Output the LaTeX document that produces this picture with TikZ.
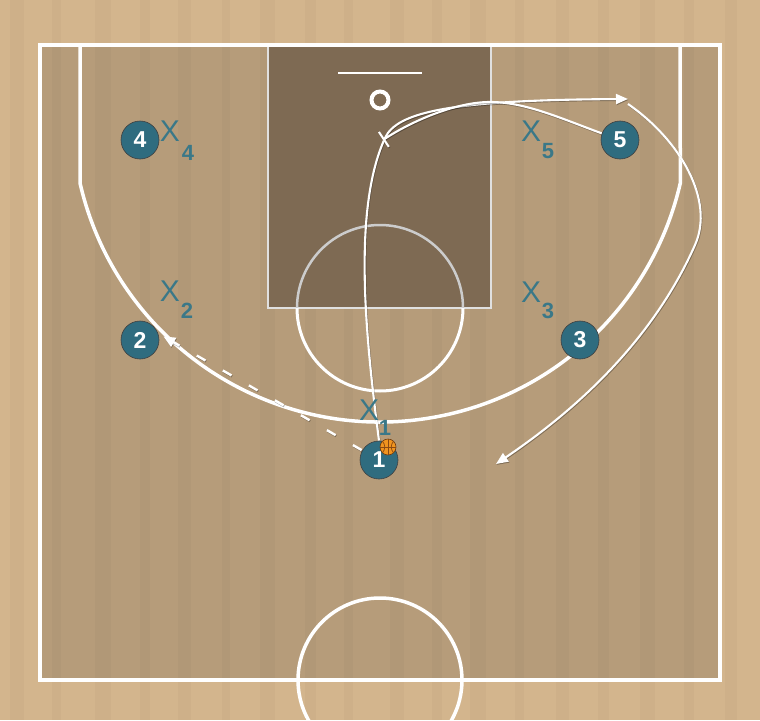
\documentclass[tikz,border=0pt]{standalone}
\usepackage{fontspec}
\setmainfont{Liberation Sans}
\usetikzlibrary{arrows.meta}
\definecolor{woodout}{HTML}{D3B58D}
\definecolor{woodin}{HTML}{B69C7A}
\definecolor{paintc}{HTML}{7E6A53}
\definecolor{tealfill}{HTML}{2F6C7F}
\definecolor{tealtxt}{HTML}{3A7888}
\definecolor{ballc}{HTML}{F0941F}
\definecolor{seam}{HTML}{8A4A12}
\pgfdeclarelayer{background}
\pgfsetlayers{background,main}
\begin{document}
\begin{tikzpicture}[x=1pt,y=-1pt,
  courtline/.style={draw=white, line width=3.5pt},
  paintline/.style={draw=white!88!black, line width=2.5pt},
  player/.style={circle, fill=tealfill, draw=black!75, line width=0.6pt,
    minimum size=38pt, inner sep=0pt, text=white,
    font=\fontsize{23}{23}\selectfont\bfseries},
  defx/.style={text=tealtxt, font=\fontsize{30}{30}\selectfont, inner sep=0pt},
  defsub/.style={text=tealtxt, font=\fontsize{22}{22}\selectfont\bfseries, inner sep=0pt},
  mv/.style={draw=white, line width=2.1pt,
    preaction={draw=black, opacity=0.3, line width=2.1pt,
      transform canvas={shift={(0.6pt,-0.9pt)}}}},
  tip/.style={-{Triangle[length=12pt,width=10pt]}},
  screenend/.style={-{Bar[width=18pt]}},
  passline/.style={draw=white, line width=2.4pt, dash pattern=on 10pt off 20pt,
    preaction={draw=black, opacity=0.3, line width=2.4pt, dash pattern=on 10pt off 20pt,
      transform canvas={shift={(0.6pt,-0.9pt)}}}}
]
\useasboundingbox (0,0) rectangle (760,720);

% players
\node[player] (p4) at (140,140) {4};
\node[player] (p2) at (140,340) {2};
\node[player] (p1) at (379,460) {1};
\node[player] (p3) at (580,340) {3};
\node[player] (p5) at (620,140) {5};

% defenders
\node[defx] (x4) at (170,131) {X};
\node[defsub] (x4n) at (188,153) {4};
\node[defx] (x2) at (170,291) {X};
\node[defsub] (x2n) at (187,311) {2};
\node[defx] (x1) at (369,410) {X};
\node[defsub] (x1n) at (385,428) {1};
\node[defx] (x5) at (531,131) {X};
\node[defsub] (x5n) at (548,151) {5};
\node[defx] (x3) at (531,292) {X};
\node[defsub] (x3n) at (548,311) {3};

% ball
\node[circle, fill=ballc, draw=seam!80!black, line width=0.6pt, minimum size=16pt, inner sep=0pt] (ball) at (388,447) {};
\begin{scope}[shift={(388,447)}]
  \draw[seam, line width=0.7pt] (-8,0) -- (8,0);
  \draw[seam, line width=0.7pt] (0,-8) -- (0,8);
  \draw[seam, line width=0.7pt] (-5.5,-5.8) .. controls (-2.5,-2) and (-2.5,2) .. (-5.5,5.8);
  \draw[seam, line width=0.7pt] (5.5,-5.8) .. controls (2.5,-2) and (2.5,2) .. (5.5,5.8);
\end{scope}

% coordinates for free ends
\coordinate (cutend) at (628,99);
\coordinate (scr) at (383,140);
\coordinate (c2s) at (628,104);
\coordinate (c2e) at (496,464);

\begin{pgfonlayer}{background}
\clip (0,0) rectangle (760,720);
% floor
\fill[woodout] (0,0) rectangle (760,720);
\fill[woodin] (40,45) rectangle (720,680);
\foreach \xa/\w in {10/14,52/9,95/16,140/10,178/13,222/8,260/15,305/11,344/9,390/14,432/10,470/16,515/9,556/13,598/11,640/15,684/10,725/12}
  \fill[black, opacity=0.025] (\xa,0) rectangle ++(\w,720);
% paint
\fill[paintc] (268,45) rectangle (491,308);
\draw[paintline] (268,45) -- (268,308) -- (491,308) -- (491,45);
% free throw circle
\draw[draw=white!80!black, line width=2.5pt] (463,308) arc[start angle=0, end angle=-180, radius=83];
\draw[courtline, line width=3pt] (463,308) arc[start angle=0, end angle=180, radius=83];
% court boundary and three point line
\draw[courtline] (40,45) rectangle (720,680);
\draw[courtline] (80,45) -- (80,183) arc[start angle=167.05, end angle=12.95, radius=308] -- (680,45);
% half court circle
\draw[courtline] (380,680) circle[radius=82];
% backboard and rim
\draw[white, line width=2pt] (338,73) -- (422,73);
\draw[white, line width=4pt] (380,100) circle[radius=8.5];

% movements
\path[mv, tip] (p1.north) .. controls (366,340) and (352,210) .. (385,138)
  .. controls (397,112) and (450,100) .. (cutend);
\path[mv, screenend] (p5.160) .. controls (560,118) and (525,102) .. (490,102)
  .. controls (455,102) and (410,122) .. (scr);
\path[mv, tip] (c2s) .. controls (680,140) and (715,200) .. (695,245)
  .. controls (670,301) and (620,380) .. (c2e);
\path[passline, tip, shorten <=20pt, shorten >=6pt] (p1.center) -- (p2.20);
\end{pgfonlayer}
\end{tikzpicture}
\end{document}
